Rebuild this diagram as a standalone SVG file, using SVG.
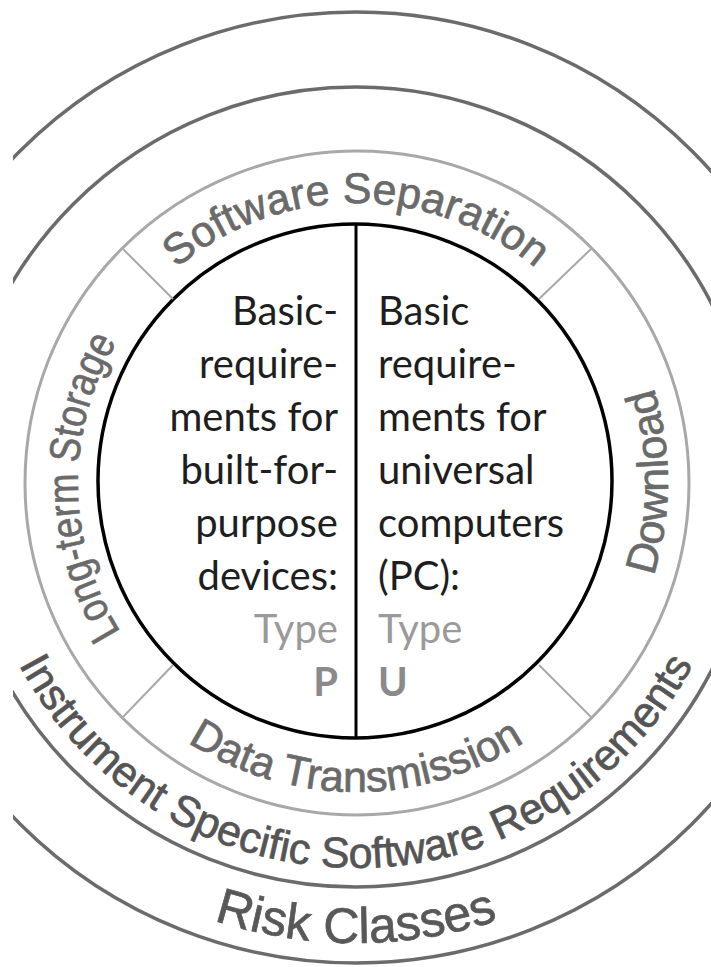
<svg xmlns="http://www.w3.org/2000/svg" width="711" height="967" viewBox="0 0 711 967">
<style>
.ring-dark{fill:none;stroke:#6b6b6b;stroke-width:3.5}
.ring-light{fill:none;stroke:#a8a8a8;stroke-width:3}
.core{fill:none;stroke:#000;stroke-width:3.5}
.div{stroke:#a8a8a8;stroke-width:2}
.split{stroke:#000;stroke-width:3}
.arc{font-family:"Liberation Sans",Arial,sans-serif;font-size:43px;fill:#6a6a6a;stroke:#6a6a6a;stroke-width:0.7}
.arc2{font-family:"Liberation Sans",Arial,sans-serif;font-size:43px;fill:#555;stroke:#555;stroke-width:0.7}
.arc3{font-family:"Liberation Sans",Arial,sans-serif;font-size:50px;fill:#585858;stroke:#585858;stroke-width:0.7}
.body{font-family:Lato,"Open Sans",sans-serif;font-size:40px;fill:#1e1e1e}
.type{fill:#9a9a9a}
.bold{font-weight:bold;fill:#8a8a8a}
</style>
<defs>
<clipPath id="clip"><rect x="13" y="0" width="698" height="967"/></clipPath>
<path id="pSS" d="M 77,482 A 279 279 0 0 1 635,482"/>
<path id="pLS" d="M 356,762 A 278 278 0 0 1 356,206"/>
<path id="pDL" d="M 356,794 A 312 312 0 0 0 356,170"/>
<path id="pDT" d="M 46,482 A 310 310 0 0 0 666,482"/>
<path id="pIS" d="M -25,487 A 381 381 0 0 0 737,487"/>
<path id="pRC" d="M -100,487 A 456 456 0 0 0 812,487"/>
</defs>

<g id="risk-classes">
<circle class="ring-dark" cx="356" cy="487.5" r="475.5" clip-path="url(#clip)"/>
<text class="arc3"><textPath href="#pRC" startOffset="50%" text-anchor="middle">Risk Classes</textPath></text>
</g>

<g id="instrument-specific">
<circle class="ring-dark" cx="356" cy="487" r="400" clip-path="url(#clip)"/>
<text class="arc2"><textPath href="#pIS" startOffset="50%" text-anchor="middle">Instrument Specific Software Requirements</textPath></text>
</g>

<g id="software-ring">
<circle class="ring-light" cx="357" cy="483" r="332"/>
</g>

<g id="software-separation">
<text class="arc"><textPath href="#pSS" startOffset="50%" text-anchor="middle">Software Separation</textPath></text>
</g>
<g id="long-term-storage">
<text class="arc" font-size="40"><textPath href="#pLS" startOffset="49.6%" text-anchor="middle" textLength="305" lengthAdjust="spacingAndGlyphs">Long-term Storage</textPath></text>
</g>
<g id="download">
<text class="arc"><textPath href="#pDL" startOffset="50%" text-anchor="middle">Download</textPath></text>
</g>
<g id="data-transmission">
<text class="arc"><textPath href="#pDT" startOffset="50%" text-anchor="middle">Data Transmission</textPath></text>
</g>

<g id="core">
<circle class="core" cx="355" cy="481" r="257"/>
</g>

<g id="connectors">
<line class="div" x1="173" y1="299" x2="123" y2="249"/>
<line class="div" x1="539" y1="299" x2="591" y2="249"/>
<line class="div" x1="173" y1="665" x2="123" y2="717"/>
<line class="div" x1="539" y1="665" x2="591" y2="717"/>
<line class="split" x1="356" y1="224" x2="356" y2="738"/>
</g>

<g id="type-p" class="body" text-anchor="end">
<text x="338" y="325">Basic-</text>
<text x="338" y="378">require-</text>
<text x="338" y="431">ments for</text>
<text x="338" y="484">built-for-</text>
<text x="338" y="537">purpose</text>
<text x="338" y="590">devices:</text>
<text x="338" y="643" class="type">Type</text>
<text x="338" y="696" class="bold">P</text>
</g>

<g id="type-u" class="body">
<text x="378" y="325">Basic</text>
<text x="378" y="378">require-</text>
<text x="378" y="431">ments for</text>
<text x="378" y="484">universal</text>
<text x="378" y="537">computers</text>
<text x="378" y="590">(PC):</text>
<text x="378" y="643" class="type">Type</text>
<text x="378" y="696" class="bold">U</text>
</g>
</svg>
